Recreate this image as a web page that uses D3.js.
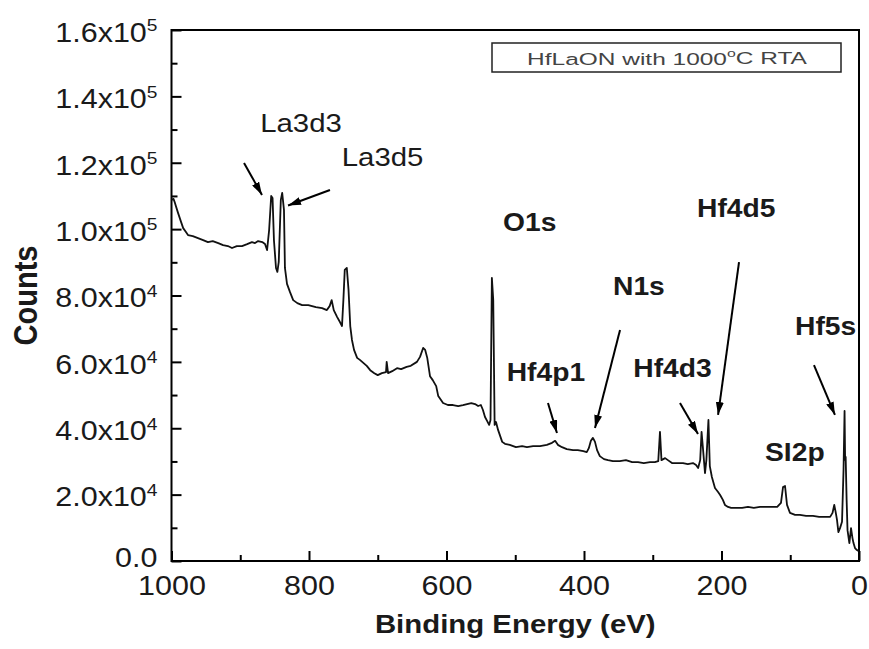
<!DOCTYPE html>
<html>
<head>
<meta charset="utf-8">
<script src="https://cdn.jsdelivr.net/npm/d3@7"></script>
<style>
  html, body { margin: 0; padding: 0; background: #fff; }
  svg { display: block; font-family: "Liberation Sans", Arial, sans-serif; }
</style>
</head>
<body>
<svg id="chart" width="869" height="649"></svg>
<script>
// XPS survey spectrum: binding energy (eV) vs counts
const energy = [
  1000, 997, 995, 990.5, 986, 983, 979, 976, 969, 961.5, 954, 947, 940, 932, 925, 918, 912, 905, 897.5, 890,
  883, 878.5, 874, 868, 864, 861, 858, 855, 853, 851, 848, 846, 844, 841, 839, 836.4, 835, 832, 827.6, 823,
  817, 810, 801, 790, 781, 774, 770, 767, 764, 759, 755, 752, 750, 748, 745, 742.5, 740, 737.5, 734.5, 730,
  726, 721, 716, 711, 705, 700, 694, 688, 687, 685, 679, 672, 666, 658, 652, 643, 638.5, 634, 631, 628,
  624, 620, 615, 612, 608, 605, 598, 590.5, 583, 576, 570, 564, 558.5, 554, 550, 547, 544, 541, 538, 536,
  534, 532, 530, 528, 525, 522, 519, 515, 508, 499, 490, 483, 474, 464, 454, 446.5, 442, 438, 432, 425,
  416, 409, 401, 396, 393, 390, 387, 384, 381, 377, 371, 365, 358, 348, 339, 330, 321.5, 313, 304, 297,
  292, 289.5, 287.3, 282, 278, 272, 265, 256, 249, 241.5, 237, 234, 231, 229, 227, 224, 222, 219, 217, 214,
  209.5, 205, 202, 198, 195, 190.5, 186, 179, 170, 161.5, 153, 144, 135, 126.5, 119, 113.5, 110.5, 107.6, 104.7, 100.4,
  93, 86, 77, 67, 58, 49.5, 42, 38.5, 36, 34, 32, 30, 27.6, 24.7, 22.5, 21, 20.2, 19.4, 18, 16.7,
  14, 11.6, 9.5, 8, 5.8, 3, 0.7
];
const counts = [
  108800, 109100, 107900, 104900, 102100, 100300, 99100, 98200, 97900, 97300, 96700, 96100, 96400, 95800, 95200, 94900, 94300, 94900, 94900, 95500,
  96100, 95800, 96400, 96100, 95500, 93700, 99700, 110000, 109400, 96700, 88300, 87100, 90100, 108800, 110900, 105800, 88300, 83500, 81000, 78600,
  77700, 77100, 77100, 76500, 76200, 75600, 76800, 78600, 75600, 73500, 72000, 70800, 78600, 87700, 88300, 81700, 70800, 66600, 63600, 61200,
  60600, 59700, 58800, 57500, 56600, 56000, 56600, 56900, 60000, 56600, 57200, 58100, 57800, 58500, 58800, 60000, 61500, 64200, 63600, 61200,
  55700, 54500, 52700, 49700, 48500, 47600, 47000, 47000, 46700, 47000, 47300, 47600, 47300, 46700, 47000, 45500, 43400, 42200, 41000, 42500,
  85300, 78600, 41000, 41900, 39500, 37700, 35900, 35300, 35000, 34300, 34600, 34300, 34600, 34600, 35000, 35600, 36200, 35000, 34300, 33700,
  33400, 33400, 33100, 32800, 34000, 36200, 37100, 35900, 33400, 31600, 30700, 30400, 30100, 30100, 30400, 29800, 29800, 29500, 29800, 29800,
  30100, 38900, 30400, 31000, 30400, 29500, 29500, 29500, 29200, 29500, 28900, 28000, 30400, 38900, 34000, 26500, 30400, 42500, 28600, 25300,
  22000, 20800, 19900, 18400, 16900, 16300, 16000, 16000, 16000, 16300, 16000, 16300, 16300, 16300, 16300, 17500, 22300, 22600, 16900, 14500,
  13900, 13900, 13600, 13600, 13300, 13300, 13300, 14500, 16900, 14800, 12400, 8700, 9900, 11800, 27400, 45200, 30500, 31400, 18400, 9300,
  5400, 9900, 6900, 5400, 3900, 3300, 3000
];

// axis ticks
const xMajor = [1000, 800, 600, 400, 200, 0];
const xMinor = [900, 700, 500, 300, 100];
const yMajor = [0, 20000, 40000, 60000, 80000, 100000, 120000, 140000, 160000];
const yMinor = [10000, 30000, 50000, 70000, 90000, 110000, 130000, 150000];

// peak labels: text, anchor energy/counts (baseline start), bold
const peakNames   = ["La3d3", "La3d5", "O1s", "N1s", "Hf4d5", "Hf4p1", "Hf4d3", "Hf5s", "SI2p"];
const peakLabelE  = [871, 752.4, 517.8, 357.8, 235.6, 512.4, 328.3, 93, 136.7];
const peakLabelC  = [129350, 119000, 99430, 80150, 103650, 54230, 55440, 68100, 30130];
const peakBold    = [false, false, true, true, true, true, true, true, true];

// arrows: tail (E, C) -> tip (E, C)
const arrowTailE = [894.5, 769.5, 347.6, 174.5, 452.4, 260.4, 65.5];
const arrowTailC = [119900, 111800, 69600, 90090, 47600, 47600, 59050];
const arrowTipE  = [868.4, 830.5, 384, 205, 439.3, 234.2, 35];
const arrowTipC  = [110300, 107100, 40070, 44000, 38570, 38270, 44000];

const legendText = "HfLaON with 1000";

const W = 869, H = 649;
const margin = { top: 30, right: 10, bottom: 88, left: 171.5 };
const SX = 1.13;          // horizontal glyph stretch used for all lettering

const svg = d3.select("#chart");

const x = d3.scaleLinear().domain([1000, 0]).range([margin.left, W - margin.right]);
const y = d3.scaleLinear().domain([0, 160000]).range([H - margin.bottom, margin.top]);

const textColor = "#1a1a1a";

// y major axis with inward ticks and superscript labels
const yAxis = svg.append("g")
  .attr("transform", `translate(${margin.left},0)`)
  .call(d3.axisLeft(y).tickValues(yMajor).tickSizeInner(-10).tickSizeOuter(0).tickPadding(14));
yAxis.selectAll(".tick text")
  .attr("font-size", 27)
  .attr("fill", textColor)
  .attr("x", 0)
  .attr("transform", `translate(-14,0) scale(${SX},1)`)
  .attr("dy", d => d === 0 ? "0.2em" : "0.42em")
  .each(function(d) {
    const t = d3.select(this);
    t.text(null);
    if (d === 0) { t.append("tspan").text("0.0"); return; }
    const e = Math.floor(Math.log10(d));
    const m = (d / Math.pow(10, e)).toFixed(1);
    t.append("tspan").text(m + "x10");
    t.append("tspan").attr("font-size", 17).attr("dy", "-0.62em").text(e);
  });
svg.append("g")
  .attr("transform", `translate(${margin.left},0)`)
  .call(d3.axisLeft(y).tickValues(yMinor).tickSizeInner(-6).tickSizeOuter(0).tickFormat(""));

// x axis
const xAxis = svg.append("g")
  .attr("transform", `translate(0,${H - margin.bottom})`)
  .call(d3.axisBottom(x).tickValues(xMajor).tickSizeInner(-10).tickSizeOuter(0).tickPadding(15).tickFormat(d3.format("d")));
xAxis.selectAll(".tick text").attr("font-size", 27).attr("fill", textColor)
  .attr("transform", `scale(${SX},1)`);
svg.append("g")
  .attr("transform", `translate(0,${H - margin.bottom})`)
  .call(d3.axisBottom(x).tickValues(xMinor).tickSizeInner(-6).tickSizeOuter(0).tickFormat(""));

svg.selectAll(".domain").remove();
svg.selectAll(".tick line").attr("stroke", "#000").attr("stroke-width", 2);

// plot frame
svg.append("rect")
  .attr("x", x(1000)).attr("y", y(160000))
  .attr("width", x(0) - x(1000)).attr("height", y(0) - y(160000))
  .attr("fill", "none").attr("stroke", "#000").attr("stroke-width", 2);

// spectrum
const pts = energy.map((e, i) => [e, counts[i]]);
svg.append("path")
  .datum(pts)
  .attr("fill", "none")
  .attr("stroke", "#111")
  .attr("stroke-width", 1.8)
  .attr("stroke-linejoin", "round")
  .attr("d", d3.line().x(d => x(d[0])).y(d => y(d[1])));

// arrows
const defs = svg.append("defs");
defs.append("marker")
  .attr("id", "head").attr("viewBox", "0 0 13 8")
  .attr("refX", 13).attr("refY", 4)
  .attr("markerWidth", 13).attr("markerHeight", 8)
  .attr("markerUnits", "userSpaceOnUse").attr("orient", "auto")
  .append("path").attr("d", "M0,0 L13,4 L0,8 Z").attr("fill", "#000");

svg.append("g").selectAll("line")
  .data(arrowTailE.map((e, i) => i))
  .join("line")
  .attr("x1", i => x(arrowTailE[i])).attr("y1", i => y(arrowTailC[i]))
  .attr("x2", i => x(arrowTipE[i])).attr("y2", i => y(arrowTipC[i]))
  .attr("stroke", "#000").attr("stroke-width", 2)
  .attr("marker-end", "url(#head)");

// peak labels
svg.append("g").selectAll("text")
  .data(peakNames.map((n, i) => i))
  .join("text")
  .attr("transform", i => `translate(${x(peakLabelE[i])},${y(peakLabelC[i])}) scale(${SX},1)`)
  .attr("font-size", i => peakBold[i] ? 25 : 26)
  .attr("font-weight", i => peakBold[i] ? "bold" : "normal")
  .attr("fill", textColor)
  .text(i => peakNames[i]);

// legend box
const lg = svg.append("g");
lg.append("rect").attr("x", 492).attr("y", 43).attr("width", 349).attr("height", 29)
  .attr("fill", "#fff").attr("stroke", "#222").attr("stroke-width", 1.5);
const lt = lg.append("text")
  .attr("transform", "translate(667,64.5) scale(1.44,1)")
  .attr("text-anchor", "middle")
  .attr("font-size", 17).attr("fill", "#444");
lt.append("tspan").text(legendText);
lt.append("tspan").attr("font-size", 11).attr("dy", "-0.7em").text("o");
lt.append("tspan").attr("dy", "0.45em").text("C RTA");

// axis titles
svg.append("text")
  .attr("transform", `translate(${(x(1000) + x(0)) / 2},633) scale(${SX},1)`)
  .attr("text-anchor", "middle").attr("font-size", 26).attr("font-weight", "bold").attr("fill", textColor)
  .text("Binding Energy (eV)");
svg.append("text")
  .attr("transform", `translate(37,${(y(0) + y(160000)) / 2}) scale(${SX},1) rotate(-90)`)
  .attr("text-anchor", "middle").attr("font-size", 29).attr("font-weight", "bold").attr("fill", textColor)
  .text("Counts");
</script>
</body>
</html>
